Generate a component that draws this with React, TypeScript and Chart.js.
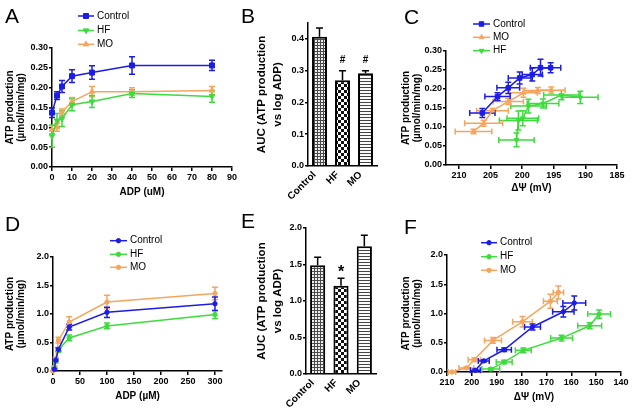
import React, { useEffect, useRef } from 'react';
import { Chart, registerables } from 'chart.js';

Chart.register(...registerables);

const FONT = "'Liberation Sans', Arial, Helvetica, sans-serif";
const BLUE = '#1c1ce6';
const GREEN = '#3ddc3d';
const ORANGE = '#f6a55e';

// ---------- Panel A : ATP production vs ADP (uM)
const adpA = [0, 2.5, 5, 10, 20, 40, 80];
const aControl = [0.137, 0.18, 0.203, 0.229, 0.238, 0.256, 0.256];
const aControlErr = [0.012, 0.01, 0.015, 0.016, 0.017, 0.022, 0.013];
const aHF = [0.078, 0.117, 0.122, 0.157, 0.165, 0.185, 0.178];
const aHFErr = [0.028, 0.018, 0.02, 0.015, 0.015, 0.01, 0.015];
const aMO = [0.094, 0.1, 0.138, 0.165, 0.19, 0.19, 0.193];
const aMOErr = [0.01, 0.01, 0.008, 0.01, 0.013, 0.01, 0.01];
const aXTicks = [0, 10, 20, 30, 40, 50, 60, 70, 80, 90];
const aYTicks = [0, 0.05, 0.1, 0.15, 0.2, 0.25, 0.3];

// ---------- Panels B and E : AUC bars
const groups = ['Control', 'HF', 'MO'];
const bAUC = [0.407, 0.27, 0.292];
const bErr = [0.027, 0.03, 0.008];
const bSig = ['', '#', '#'];
const bYTicks = [0, 0.1, 0.2, 0.3, 0.4];
const eAUC = [1.49, 1.21, 1.75];
const eErr = [0.11, 0.1, 0.15];
const eSig = ['', '*', ''];
const eYTicks = [0, 0.5, 1, 1.5, 2];

// ---------- Panel C : ATP production vs membrane potential
const cControlMV = [206.3, 203.9, 202.2, 200.4, 198.4, 197.1, 195.5];
const cControlMVErr = [2.0, 2.0, 1.8, 1.8, 1.6, 1.6, 1.6];
const cControl = [0.137, 0.18, 0.203, 0.229, 0.238, 0.256, 0.256];
const cControlErr = [0.012, 0.01, 0.015, 0.016, 0.017, 0.022, 0.013];
const cMOMV = [207.7, 206.1, 204.7, 202.2, 199.8, 197.5, 195.4];
const cMOMVErr = [2.9, 3.0, 2.5, 2.4, 2.2, 2.2, 2.2];
const cMO = [0.088, 0.11, 0.143, 0.167, 0.19, 0.196, 0.197];
const cMOErr = [0.006, 0.008, 0.006, 0.008, 0.012, 0.008, 0.008];
const cHFMV = [200.9, 200.6, 199.9, 199.0, 196.7, 193.8, 190.8];
const cHFMVErr = [2.8, 3.0, 2.5, 2.8, 2.5, 2.8, 2.8];
const cHF = [0.066, 0.117, 0.123, 0.155, 0.162, 0.184, 0.178];
const cHFErr = [0.018, 0.025, 0.02, 0.018, 0.012, 0.012, 0.016];
const cXTicks = [185, 190, 195, 200, 205, 210];
const cYTicks = [0, 0.05, 0.1, 0.15, 0.2, 0.25, 0.3];

// ---------- Panel D : ATP production vs ADP (µM)
const adpD = [0, 2.5, 5, 10, 30, 100, 300];
const dControl = [0.03, 0.19, 0.38, 0.77, 1.03, 1.18];
const dControlErr = [0.02, 0.02, 0.03, 0.05, 0.09, 0.12];
const dHF = [0.05, 0.17, 0.37, 0.58, 0.79, 0.99];
const dHFErr = [0.02, 0.03, 0.04, 0.05, 0.05, 0.07];
const dMO = [0.0, 0.07, 0.21, 0.54, 0.86, 1.21, 1.36];
const dMOErr = [0.01, 0.02, 0.03, 0.05, 0.09, 0.12, 0.11];
const dXTicks = [0, 50, 100, 150, 200, 250, 300];
const dYTicks = [0, 0.5, 1, 1.5, 2];

// ---------- Panel F : ATP production vs membrane potential
const fControlMV = [198.6, 195.2, 187.0, 175.6, 163.2, 158.8];
const fControlMVErr = [2.0, 2.2, 2.9, 3.2, 4.3, 4.6];
const fHFMV = [192.4, 187.0, 179.3, 163.9, 152.6, 148.8];
const fHFMVErr = [3.6, 3.2, 3.2, 4.4, 4.8, 4.6];
const fMOMV = [208.0, 202.2, 199.0, 191.5, 179.6, 168.4, 165.2];
const fMOMVErr = [1.5, 3.0, 2.5, 3.4, 4.0, 2.8, 2.1];
const fXTicks = [140, 150, 160, 170, 180, 190, 200, 210];
const fYTicks = [0, 0.5, 1, 1.5, 2];

const yTitleATP = ['ATP production', '(µmol/min/mg)'];
const yTitleAUC = ['AUC (ATP production', 'vs log ADP)'];

type Area = { l: number; t: number; r: number; b: number };
interface Geo { left: number; top: number; w: number; h: number; area: Area; xh: number }

const geoA: Geo = { left: 0, top: 0, w: 238, h: 205, area: { l: 52, t: 48, r: 232, b: 167 }, xh: 31 };
const geoB: Geo = { left: 236, top: 0, w: 160, h: 215, area: { l: 308, t: 23, r: 377, b: 166 }, xh: 36 };
const geoC: Geo = { left: 396, top: 0, w: 239, h: 205, area: { l: 446, t: 51, r: 617, b: 165 }, xh: 29 };
const geoD: Geo = { left: 0, top: 205, w: 238, h: 212, area: { l: 53, t: 257, r: 222, b: 371 }, xh: 31 };
const geoE: Geo = { left: 236, top: 205, w: 160, h: 212, area: { l: 306, t: 228, r: 376, b: 374 }, xh: 36 };
const geoF: Geo = { left: 396, top: 205, w: 239, h: 212, area: { l: 447, t: 255, r: 621, b: 372 }, xh: 31 };

const pts = (xs: number[], ys: number[]) => ys.map((y, i) => ({ x: xs[i], y }));

function drawMarker(ctx: CanvasRenderingContext2D, style: string, x: number, y: number, r: number, rot: number, color: string) {
  ctx.save();
  ctx.fillStyle = color;
  ctx.strokeStyle = color;
  ctx.lineWidth = 1;
  ctx.translate(x, y);
  ctx.rotate((rot * Math.PI) / 180);
  ctx.beginPath();
  if (style === 'rect') {
    const s = r * Math.SQRT1_2;
    ctx.rect(-s, -s, 2 * s, 2 * s);
  } else if (style === 'triangle') {
    ctx.moveTo(0, -r);
    ctx.lineTo(r * 0.866, r * 0.5);
    ctx.lineTo(-r * 0.866, r * 0.5);
    ctx.closePath();
  } else {
    ctx.arc(0, 0, r, 0, Math.PI * 2);
  }
  ctx.fill();
  ctx.stroke();
  ctx.restore();
}

function drawErrors(chart: any) {
  const ctx: CanvasRenderingContext2D = chart.ctx;
  const xs = chart.scales.x;
  const ys = chart.scales.y;
  const dss = chart.data.datasets;
  for (let i = dss.length - 1; i >= 0; i--) {
    const ds = dss[i];
    const meta = chart.getDatasetMeta(i);
    ctx.save();
    ctx.strokeStyle = ds.errorColor || ds.borderColor;
    ctx.lineWidth = 1.5;
    const cap = ds.capHalf ?? 3;
    meta.data.forEach((el: any, j: number) => {
      const raw = ds.data[j];
      const yv = typeof raw === 'number' ? raw : raw.y;
      const xv = typeof raw === 'number' ? null : raw.x;
      const px = el.x;
      const py = el.y;
      ctx.beginPath();
      if (ds.yErr) {
        const e = ds.yErr[j];
        const t = ys.getPixelForValue(yv + e);
        const b = ds.errUp ? py : ys.getPixelForValue(yv - e);
        ctx.moveTo(px, t);
        ctx.lineTo(px, b);
        ctx.moveTo(px - cap, t);
        ctx.lineTo(px + cap, t);
        if (!ds.errUp) {
          ctx.moveTo(px - cap, b);
          ctx.lineTo(px + cap, b);
        }
      }
      if (ds.xErr && xv !== null) {
        const e = ds.xErr[j];
        const l = xs.getPixelForValue(xv - e);
        const r = xs.getPixelForValue(xv + e);
        ctx.moveTo(l, py);
        ctx.lineTo(r, py);
        ctx.moveTo(l, py - cap);
        ctx.lineTo(l, py + cap);
        ctx.moveTo(r, py - cap);
        ctx.lineTo(r, py + cap);
      }
      ctx.stroke();
    });
    ctx.restore();
  }
}

const errorBars = {
  id: 'errorBars',
  beforeDatasetsDraw(chart: any) {
    if (chart.config.type !== 'bar') drawErrors(chart);
  },
  afterDatasetsDraw(chart: any) {
    if (chart.config.type === 'bar') drawErrors(chart);
  },
};

interface DecorSpec {
  geo: Geo;
  letter: { text: string; x: number; y: number };
  legend?: { x1: number; x2: number; tx: number; ys: number[] };
  sig?: { marks: string[]; font: string; offset: number };
}

function decor(spec: DecorSpec) {
  return {
    id: 'decor',
    afterDraw(chart: any) {
      const ctx: CanvasRenderingContext2D = chart.ctx;
      const ox = spec.geo.left;
      const oy = spec.geo.top;
      ctx.save();
      ctx.fillStyle = '#000';
      ctx.textAlign = 'left';
      ctx.textBaseline = 'alphabetic';
      ctx.font = `400 21px ${FONT}`;
      ctx.fillText(spec.letter.text, spec.letter.x - ox, spec.letter.y - oy);
      if (spec.legend) {
        const L = spec.legend;
        chart.data.datasets.forEach((ds: any, i: number) => {
          const y = L.ys[i] - oy;
          ctx.strokeStyle = ds.borderColor;
          ctx.lineWidth = 1.5;
          ctx.beginPath();
          ctx.moveTo(L.x1 - ox, y);
          ctx.lineTo(L.x2 - ox, y);
          ctx.stroke();
          drawMarker(ctx, ds.pointStyle, (L.x1 + L.x2) / 2 - ox, y, ds.pointRadius, ds.pointRotation || 0, ds.borderColor);
          ctx.fillStyle = '#000';
          ctx.font = `400 10px ${FONT}`;
          ctx.textBaseline = 'middle';
          ctx.textAlign = 'left';
          ctx.fillText(ds.label, L.tx - ox, y);
        });
      }
      if (spec.sig) {
        const S = spec.sig;
        const ds = chart.data.datasets[0];
        const meta = chart.getDatasetMeta(0);
        ctx.font = S.font;
        ctx.textAlign = 'center';
        ctx.textBaseline = 'alphabetic';
        ctx.fillStyle = '#000';
        meta.data.forEach((el: any, j: number) => {
          const m = S.marks[j];
          if (!m) return;
          const top = chart.scales.y.getPixelForValue(ds.data[j] + ds.yErr[j]);
          ctx.fillText(m, el.x, top - S.offset);
        });
      }
      ctx.restore();
    },
  };
}

const tickFont = { family: FONT, size: 9, weight: 'bold' as const };
const titleFont = { family: FONT, size: 10, weight: 'bold' as const, lineHeight: 1.1 };

function linScale(o: {
  axis: 'x' | 'y'; min: number; max: number; ticks: number[]; decimals: number; geo: Geo;
  reverse?: boolean; title: string | string[]; titlePad?: number;
}) {
  const isY = o.axis === 'y';
  return {
    type: 'linear',
    position: isY ? 'left' : 'bottom',
    min: o.min,
    max: o.max,
    reverse: !!o.reverse,
    afterBuildTicks: (s: any) => {
      s.ticks = o.ticks.map((v) => ({ value: v }));
    },
    afterFit: (s: any) => {
      if (isY) s.width = o.geo.area.l - o.geo.left;
      else s.height = o.geo.xh;
    },
    ticks: {
      font: tickFont,
      color: '#000',
      padding: 1,
      autoSkip: false,
      maxRotation: 0,
      callback: (v: any) => Number(v).toFixed(o.decimals),
    },
    grid: { display: true, drawOnChartArea: false, drawTicks: true, tickLength: isY ? 3 : 4, color: '#000', lineWidth: 1.5 },
    border: { display: true, color: '#000', width: 1.5 },
    title: {
      display: true,
      text: o.title,
      color: '#000',
      font: titleFont,
      padding: isY ? { top: o.titlePad ?? 4.5, bottom: 0 } : { top: 0, bottom: 0 },
    },
  };
}

function padding(g: Geo) {
  return {
    left: 0,
    top: g.area.t - g.top,
    right: g.left + g.w - g.area.r,
    bottom: g.top + g.h - g.area.b - g.xh,
  };
}

function baseOptions(g: Geo, scales: any) {
  return {
    responsive: false,
    animation: false,
    devicePixelRatio: 1,
    events: [],
    layout: { padding: padding(g) },
    plugins: { legend: { display: false }, tooltip: { enabled: false }, title: { display: false } },
    scales,
  };
}

function lineDs(label: string, data: any[], color: string, style: string, r: number, extra: any) {
  return {
    label,
    data,
    borderColor: color,
    backgroundColor: color,
    pointBackgroundColor: color,
    pointBorderColor: color,
    pointStyle: style,
    pointRadius: r,
    pointBorderWidth: 1,
    borderWidth: 1.5,
    showLine: true,
    clip: false,
    ...extra,
  };
}

function makePattern(kind: string) {
  const c = document.createElement('canvas');
  const g = c.getContext('2d')!;
  if (kind === 'grid') {
    c.width = 3; c.height = 3;
    g.fillStyle = '#eeeeee'; g.fillRect(0, 0, 3, 3);
    g.fillStyle = '#4a4a4a'; g.fillRect(0, 0, 3, 1); g.fillRect(0, 0, 1, 3);
  } else if (kind === 'check') {
    c.width = 6; c.height = 6;
    g.fillStyle = '#fff'; g.fillRect(0, 0, 6, 6);
    g.fillStyle = '#111'; g.fillRect(0, 0, 3, 3); g.fillRect(3, 3, 3, 3);
  } else {
    c.width = 3; c.height = 3;
    g.fillStyle = '#fafafa'; g.fillRect(0, 0, 3, 3);
    g.fillStyle = '#444'; g.fillRect(0, 0, 3, 1);
  }
  return g.createPattern(c, 'repeat');
}

function cfgA() {
  const g = geoA;
  return {
    type: 'scatter',
    data: {
      datasets: [
        lineDs('Control', pts(adpA, aControl), BLUE, 'rect', 3.5, { yErr: aControlErr }),
        lineDs('HF', pts(adpA, aHF), GREEN, 'triangle', 3.2, { yErr: aHFErr, pointRotation: 180 }),
        lineDs('MO', pts(adpA, aMO), ORANGE, 'triangle', 3.2, { yErr: aMOErr }),
      ],
    },
    options: baseOptions(g, {
      x: linScale({ axis: 'x', min: 0, max: 90, ticks: aXTicks, decimals: 0, geo: g, title: 'ADP (uM)' }),
      y: linScale({ axis: 'y', min: 0, max: 0.3, ticks: aYTicks, decimals: 2, geo: g, title: yTitleATP, titlePad: 4.5 }),
    }),
    plugins: [errorBars, decor({ geo: g, letter: { text: 'A', x: 5, y: 23 }, legend: { x1: 78, x2: 94, tx: 97, ys: [16, 30.5, 44.3] } })],
  };
}

function barCfg(g: Geo, values: number[], errs: number[], ticks: number[], max: number, letter: string, marks: string[], sigFont: string, sigOffset: number) {
  return {
    type: 'bar',
    data: {
      labels: groups,
      datasets: [
        {
          label: 'AUC',
          data: values,
          yErr: errs,
          errUp: true,
          errorColor: '#000',
          capHalf: 3.5,
          backgroundColor: [makePattern('grid'), makePattern('check'), makePattern('stripe')],
          borderColor: '#000',
          borderWidth: 2,
          barPercentage: 0.65,
          categoryPercentage: 1,
        },
      ],
    },
    options: baseOptions(g, {
      x: {
        type: 'category',
        offset: true,
        afterFit: (s: any) => { s.height = g.xh; },
        ticks: { font: { family: FONT, size: 10, weight: 'bold' }, color: '#000', minRotation: 45, maxRotation: 45, autoSkip: false, padding: 3, labelOffset: -5 },
        grid: { display: false, drawTicks: false, tickLength: 0 },
        border: { display: true, color: '#000', width: 1.5 },
      },
      y: {
        ...linScale({ axis: 'y', min: 0, max, ticks, decimals: 1, geo: g, title: yTitleAUC, titlePad: 17.7 }),
        title: {
          display: true,
          text: yTitleAUC,
          color: '#000',
          font: { family: FONT, size: 11.5, weight: 'bold', lineHeight: 1.42 },
          padding: { top: 17.7, bottom: 0 },
        },
      },
    }),
    plugins: [errorBars, decor({ geo: g, letter: { text: letter, x: 241, y: g.top + 23 }, sig: { marks, font: sigFont, offset: sigOffset } })],
  };
}

function cfgB() {
  return barCfg(geoB, bAUC, bErr, bYTicks, 0.45, 'B', bSig, `bold 10px ${FONT}`, 8);
}
function cfgE() {
  return barCfg(geoE, eAUC, eErr, eYTicks, 2.0, 'E', eSig, `bold 16px ${FONT}`, 1);
}

function cfgC() {
  const g = geoC;
  return {
    type: 'scatter',
    data: {
      datasets: [
        lineDs('Control', pts(cControlMV, cControl), BLUE, 'rect', 3.2, { yErr: cControlErr, xErr: cControlMVErr }),
        lineDs('MO', pts(cMOMV, cMO), ORANGE, 'triangle', 2.8, { yErr: cMOErr, xErr: cMOMVErr }),
        lineDs('HF', pts(cHFMV, cHF), GREEN, 'triangle', 2.8, { yErr: cHFErr, xErr: cHFMVErr, pointRotation: 180 }),
      ],
    },
    options: baseOptions(g, {
      x: linScale({ axis: 'x', min: 185, max: 212.05, ticks: cXTicks, decimals: 0, geo: g, title: 'ΔΨ (mV)', reverse: true }),
      y: linScale({ axis: 'y', min: 0, max: 0.3, ticks: cYTicks, decimals: 2, geo: g, title: yTitleATP, titlePad: 5.2 }),
    }),
    plugins: [errorBars, decor({ geo: g, letter: { text: 'C', x: 404, y: 23.5 }, legend: { x1: 473, x2: 490, tx: 493, ys: [24, 37.3, 50.7] } })],
  };
}

function cfgD() {
  const g = geoD;
  const x6 = adpD.slice(1);
  return {
    type: 'scatter',
    data: {
      datasets: [
        lineDs('Control', pts(x6, dControl), BLUE, 'circle', 2.2, { yErr: dControlErr }),
        lineDs('HF', pts(x6, dHF), GREEN, 'circle', 2.2, { yErr: dHFErr }),
        lineDs('MO', pts(adpD, dMO), ORANGE, 'circle', 2.2, { yErr: dMOErr }),
      ],
    },
    options: baseOptions(g, {
      x: linScale({ axis: 'x', min: 0, max: 313, ticks: dXTicks, decimals: 0, geo: g, title: 'ADP (µM)' }),
      y: linScale({ axis: 'y', min: 0, max: 2, ticks: dYTicks, decimals: 1, geo: g, title: yTitleATP, titlePad: 4.5 }),
    }),
    plugins: [errorBars, decor({ geo: g, letter: { text: 'D', x: 5, y: 231 }, legend: { x1: 110, x2: 127, tx: 130, ys: [240.7, 254.3, 267.3] } })],
  };
}

function cfgF() {
  const g = geoF;
  return {
    type: 'scatter',
    data: {
      datasets: [
        lineDs('Control', pts(fControlMV, dControl), BLUE, 'circle', 2.2, { yErr: dControlErr, xErr: fControlMVErr }),
        lineDs('HF', pts(fHFMV, dHF), GREEN, 'circle', 2.2, { yErr: dHFErr, xErr: fHFMVErr }),
        lineDs('MO', pts(fMOMV, dMO), ORANGE, 'circle', 2.2, { yErr: dMOErr, xErr: fMOMVErr }),
      ],
    },
    options: baseOptions(g, {
      x: linScale({ axis: 'x', min: 140, max: 210, ticks: fXTicks, decimals: 0, geo: g, title: 'ΔΨ (mV)', reverse: true }),
      y: linScale({ axis: 'y', min: 0, max: 2, ticks: fYTicks, decimals: 1, geo: g, title: yTitleATP, titlePad: 5.2 }),
    }),
    plugins: [errorBars, decor({ geo: g, letter: { text: 'F', x: 404, y: 234 }, legend: { x1: 481, x2: 497, tx: 500, ys: [242.7, 256.7, 270.3] } })],
  };
}

function Panel({ geo, make }: { geo: Geo; make: () => any }) {
  const ref = useRef<HTMLCanvasElement>(null);
  useEffect(() => {
    const chart = new Chart(ref.current as HTMLCanvasElement, make());
    return () => chart.destroy();
  }, []);
  return (
    <canvas
      ref={ref}
      width={geo.w}
      height={geo.h}
      style={{ position: 'absolute', left: geo.left, top: geo.top, width: geo.w, height: geo.h }}
    />
  );
}

export default function App() {
  return (
    <div style={{ position: 'fixed', left: 0, top: 0, width: 635, height: 417, background: '#fff', overflow: 'hidden' }}>
      <Panel geo={geoA} make={cfgA} />
      <Panel geo={geoB} make={cfgB} />
      <Panel geo={geoC} make={cfgC} />
      <Panel geo={geoD} make={cfgD} />
      <Panel geo={geoE} make={cfgE} />
      <Panel geo={geoF} make={cfgF} />
    </div>
  );
}
